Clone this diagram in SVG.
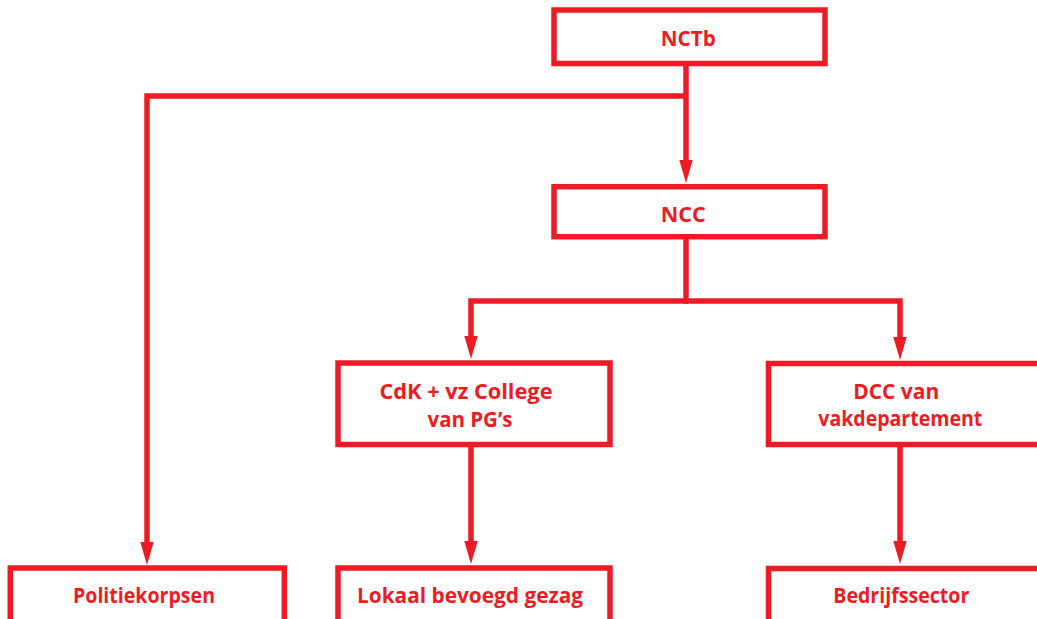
<svg xmlns="http://www.w3.org/2000/svg" width="1037" height="619" viewBox="0 0 1037 619">
<style>
.box{fill:#fff;stroke:#ED1C24;stroke-width:5.5}
.lbl{font-family:"Open Sans",Lato,"Liberation Sans",sans-serif;font-weight:bold;font-size:20.5px;fill:#ED1C24;text-anchor:middle}
.con{fill:none;stroke:#ED1C24;stroke-width:5.5;stroke-linejoin:miter}
</style>
<defs>
<marker id="ah" markerUnits="userSpaceOnUse" markerWidth="24" markerHeight="14" refX="1" refY="7" orient="auto" overflow="visible">
<path d="M0,0.3 L23,7 L0,13.7 Z" fill="#ED1C24"/>
</marker>
</defs>
<rect width="1037" height="619" fill="#fff"/>
<g id="connectors">
<path class="con" d="M686,66 V161" marker-end="url(#ah)"/>
<path class="con" d="M686,96 H147 V543" marker-end="url(#ah)"/>
<path class="con" d="M686,239 V301"/>
<path class="con" d="M688,301 H471 V337" marker-end="url(#ah)"/>
<path class="con" d="M684,301 H900 V338" marker-end="url(#ah)"/>
<path class="con" d="M471,447 V542" marker-end="url(#ah)"/>
<path class="con" d="M900,447 V542" marker-end="url(#ah)"/>
</g>
<g id="nctb">
<rect class="box" x="554" y="10" width="271" height="53.5"/>
<text class="lbl" x="688.3" y="45.7" textLength="55" lengthAdjust="spacingAndGlyphs">NCTb</text>
</g>
<g id="ncc">
<rect class="box" x="554" y="186.7" width="271" height="50"/>
<text class="lbl" x="683.2" y="221.7" textLength="45" lengthAdjust="spacingAndGlyphs">NCC</text>
</g>
<g id="cdk">
<rect class="box" x="338" y="363" width="272" height="81.5"/>
<text class="lbl" x="466" y="399" textLength="173" lengthAdjust="spacingAndGlyphs">CdK + vz College</text>
<text class="lbl" x="470" y="426.7" textLength="85" lengthAdjust="spacingAndGlyphs">van PG’s</text>
</g>
<g id="dcc">
<rect class="box" x="768.5" y="363.5" width="272" height="81"/>
<text class="lbl" x="896.2" y="398.5" textLength="86" lengthAdjust="spacingAndGlyphs">DCC van</text>
<text class="lbl" x="900.3" y="426.3" textLength="164" lengthAdjust="spacingAndGlyphs">vakdepartement</text>
</g>
<g id="politie">
<rect class="box" x="10.3" y="568" width="274" height="70"/>
<text class="lbl" x="144" y="602.7" textLength="142" lengthAdjust="spacingAndGlyphs">Politiekorpsen</text>
</g>
<g id="lokaal">
<rect class="box" x="338" y="568" width="272" height="70"/>
<text class="lbl" x="470" y="602.7" textLength="226" lengthAdjust="spacingAndGlyphs">Lokaal bevoegd gezag</text>
</g>
<g id="bedrijf">
<rect class="box" x="768.5" y="568.5" width="272" height="70"/>
<text class="lbl" x="901.3" y="602.7" textLength="136" lengthAdjust="spacingAndGlyphs">Bedrijfssector</text>
</g>
</svg>
